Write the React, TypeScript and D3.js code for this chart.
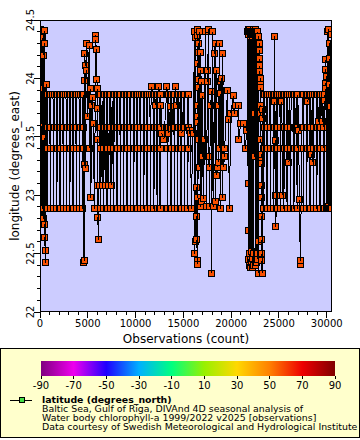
import React from "react";
import * as d3 from "d3";

const W = 360;
const H = 440;
const plot = { left: 40, right: 332, top: 20, bottom: 312 };

const xDomain = [0, 30550];
const yDomain = [22, 24.5];
const xTicks = [0, 5000, 10000, 15000, 20000, 25000, 30000];
const yTicks = [22, 22.5, 23, 23.5, 24, 24.5];
const yTickLabels = ["22", "22.5", "23", "23.5", "24", "24.5"];

const colorbarTicks = [-90, -70, -50, -30, -10, 10, 30, 50, 70, 90];
const paletteColors = [
  "#800080", "#ee00ee", "#2000ff", "#00b0ff", "#00ff80",
  "#98f000", "#ffd800", "#ff8000", "#ee0000", "#800000",
];

// Gulf of Riga monitoring stations (longitude, degrees east)
const stationLon = [23.86, 23.58, 23.4, 22.885];
// order of station visits within a monitoring cruise
const visitStation = [0, 1, 2, 3, 3, 2, 1, 0];
const visitOffset = [0, 15, 30, 45, 75, 90, 105, 120];
// observation count at which each regular cruise starts
const cruiseStart = [
  680, 1020, 1360, 1700, 2040, 2380, 2720, 3060, 3400, 3740, 4080, 4420,
  6250, 6600, 6950, 7300, 7650, 8000, 8350, 8700, 9050, 9400, 9750, 10100,
  10450, 10800, 11150, 11500, 11850, 12200, 12500,
  13300, 13650, 14000, 14350, 14700, 15050, 15400,
  23350, 23700, 24050, 24400, 24750, 25100, 25450, 25800, 26150, 26500, 26850,
  27500, 27850, 28200, 28550, 28900, 29250, 29600,
];
// irregular observations [observation count, longitude]
const extraObs: [number, number][] = [
  [0, 23.6], [30, 24.38], [60, 22.88], [90, 24.42], [120, 22.8], [150, 23.61],
  [180, 24.3], [210, 23.91], [240, 22.78], [273, 22.885], [300, 24.35], [340, 22.8],
  [380, 24.2], [420, 24.41], [440, 24.3], [470, 23.49], [490, 22.75], [510, 22.64],
  [530, 22.53], [600, 22.42], [630, 23.95],
  [4600, 22.42], [4620, 22.44], [4640, 23.26], [4660, 23.98], [4680, 24.21],
  [4720, 23.23], [4800, 24.11], [4860, 24.3], [4900, 24.07], [5000, 23.67],
  [5140, 24.28], [5200, 23.4], [5290, 23.91], [5330, 22.98], [5380, 23.77],
  [5450, 23.84], [5560, 23.61], [5700, 22.885], [5830, 24.37], [5850, 24.33],
  [5870, 24.25], [5960, 23.99], [5980, 23.91], [6000, 23.74], [6020, 23.48],
  [6040, 23.08], [6060, 22.81], [6085, 22.62],
  [6180, 23.085], [6500, 23.085], [6820, 23.085], [7180, 23.085], [7500, 23.085],
  [11640, 23.93], [12060, 23.77], [12410, 23.93], [12650, 23.77], [12720, 23.53],
  [12970, 23.48], [13280, 23.93], [13450, 23.53], [13640, 23.76], [13800, 23.57],
  [14150, 23.93], [14330, 23.77], [14850, 23.53],
  [15600, 23.55], [15700, 23.53], [15870, 22.885], [15950, 23.55], [16050, 23.53],
  [16155, 24.4], [16200, 22.5], [16250, 24.35], [16300, 22.6], [16395, 23.07],
  [16400, 22.82], [16420, 22.62], [16440, 22.44], [16450, 22.41], [16470, 24.42],
  [16480, 24.37], [16490, 24.13], [16500, 23.77], [16510, 23.67], [16520, 23.62],
  [16530, 22.98], [16540, 23.48], [16560, 24.22], [16575, 24.3], [16600, 23.99],
  [16620, 23.92], [16640, 23.24], [16700, 24.4], [16760, 22.9], [16815, 24.22],
  [16830, 24.07], [16850, 23.97], [16900, 22.95], [16995, 23.33], [17025, 23.85],
  [17100, 22.97], [17205, 23.48], [17300, 24.4], [17400, 22.9], [17520, 23.97],
  [17550, 24.07], [17625, 24.42], [17700, 22.9], [17730, 23.33], [17750, 23.24],
  [17865, 23.77], [17940, 23.89], [17970, 22.33], [18050, 24.4], [18150, 22.9],
  [18285, 24.21], [18315, 24.3], [18400, 22.95], [18460, 24.07], [18495, 23.17],
  [18570, 23.24], [18670, 23.28], [18705, 23.77], [18775, 24.3], [18790, 23.4],
  [18880, 23.97], [18900, 23.87], [18915, 22.885], [19000, 24.0], [19090, 22.98],
  [19125, 24.21], [19200, 23.24], [19300, 23.33], [19320, 23.4], [19615, 23.9],
  [19700, 23.65], [19825, 22.885], [19950, 23.7], [20245, 23.85], [20300, 23.7],
  [20500, 23.77], [20770, 23.77], [20800, 23.48], [21000, 23.61], [21295, 23.61],
  [21460, 23.4], [21650, 23.55],
  [21740, 24.4], [21765, 23.1], [21790, 24.42], [21815, 22.7], [21840, 24.38],
  [21865, 22.45], [21890, 24.4], [21915, 22.4], [21940, 24.42], [21965, 22.5],
  [21990, 24.36], [22015, 22.38], [22040, 24.4], [22065, 22.45], [22090, 24.38],
  [22115, 22.42], [22140, 24.4], [22165, 22.52], [22190, 24.36], [22215, 22.38],
  [22240, 24.4], [22265, 22.46], [22290, 24.42], [22315, 22.4], [22340, 24.38],
  [22365, 22.5], [22390, 24.4], [22415, 23.7], [22440, 24.38], [22465, 23.33],
  [22490, 24.4], [22515, 22.45], [22540, 24.38], [22565, 22.4], [22590, 24.42],
  [22615, 22.48], [22640, 24.38], [22665, 22.42], [22690, 24.4], [22715, 22.5],
  [22740, 24.36], [22765, 22.45], [22790, 24.4], [22815, 22.6], [22840, 24.36],
  [22865, 22.33],
  [22900, 24.36], [22920, 24.3], [22940, 24.24], [22960, 24.17], [22980, 24.11],
  [23000, 24.06], [23020, 24.0], [23040, 23.95], [23060, 23.92], [23080, 23.77],
  [23100, 23.7], [23120, 23.48], [23140, 23.35], [23150, 23.3], [23160, 23.27],
  [23170, 23.08], [23180, 22.98], [23190, 22.82], [23200, 22.62], [23210, 22.5],
  [23220, 22.44], [23230, 22.33], [23290, 23.73], [23320, 23.66],
  [24550, 24.36], [24580, 23.8], [24610, 23.47], [24640, 23.0], [24680, 22.73],
  [24720, 23.0], [25300, 23.8], [25390, 23.0], [26050, 23.28], [26680, 23.57],
  [27050, 23.55], [27150, 22.96], [27230, 22.41], [27280, 22.44], [27350, 23.4],
  [28000, 23.8], [28450, 23.35], [28480, 23.28], [29120, 23.63], [29540, 23.63],
  [29760, 23.81], [29800, 22.885], [29830, 24.16], [29860, 24.08], [29890, 23.96],
  [29920, 23.91], [29950, 22.885], [30000, 24.02], [30050, 22.885], [30100, 24.4],
  [30140, 22.885], [30170, 24.42], [30210, 22.9], [30240, 24.3], [30270, 24.17],
  [30300, 22.885], [30330, 23.95], [30360, 23.76], [30400, 22.885], [30450, 24.38],
  [30500, 22.885],
];
const pointLatitude = 57.5;

const legendTitle = "latitude (degrees_north)";
const legendLines = [
  "Baltic Sea, Gulf of Riga, DIVAnd 4D seasonal analysis of",
  "Water body chlorophyll-a 1999/2022 v2025 [observations]",
  "Data courtesy of Swedish Meteorological and Hydrological Institute",
];

const FONT = "DejaVu Sans, Verdana, sans-serif";

export default function App() {
  const x = d3.scaleLinear().domain(xDomain).range([plot.left, plot.right]);
  const y = d3.scaleLinear().domain(yDomain).range([plot.bottom, plot.top]);
  const color = d3
    .scaleLinear<string>()
    .domain(colorbarTicks)
    .range(paletteColors)
    .interpolate(d3.interpolateRgb);
  const cb = d3.scaleLinear().domain([-90, 90]).range([41, 335]);

  const pts: [number, number][] = [];
  cruiseStart.forEach((c) => {
    visitStation.forEach((s, k) => pts.push([c + visitOffset[k], stationLon[s]]));
  });
  extraObs.forEach((p) => pts.push(p));
  pts.sort((a, b) => a[0] - b[0]);

  const fill = color(pointLatitude);
  const marks: React.ReactNode[] = [];
  pts.forEach((p, i) => {
    const px = x(p[0]);
    const py = y(p[1]);
    if (i > 0) {
      const q = pts[i - 1];
      marks.push(
        <line key={"l" + i} x1={x(q[0])} y1={y(q[1])} x2={px} y2={py} stroke="#000" strokeWidth={1} />
      );
    }
    marks.push(
      <rect key={"r" + i} x={px - 3} y={py - 3} width={6} height={6} fill={fill} stroke="#000" strokeWidth={1} />
    );
  });

  const xMinor = d3.range(0, 30001, 1000).filter((v) => v % 5000 !== 0);
  const yMinor = d3
    .range(22, 24.5, 0.1)
    .map((v) => +v.toFixed(1))
    .filter((v) => Math.abs(v * 2 - Math.round(v * 2)) > 1e-6);

  const gradStops = colorbarTicks.map((v, i) => (
    <stop key={i} offset={`${((v + 90) / 180) * 100}%`} stopColor={paletteColors[i]} />
  ));

  return (
    <svg width={W} height={H} style={{ position: "absolute", left: 0, top: 0, display: "block", background: "#fff" }} fontFamily={FONT}>
      <defs>
        <clipPath id="plotClip">
          <rect x={plot.left} y={plot.top} width={plot.right - plot.left} height={plot.bottom - plot.top} />
        </clipPath>
        <clipPath id="legendClip">
          <rect x={1} y={348} width={358} height={90} />
        </clipPath>
        <linearGradient id="cbGrad" x1="0" x2="1" y1="0" y2="0">
          {gradStops}
        </linearGradient>
      </defs>
      <rect x={0} y={0} width={W} height={H} fill="#fff" />
      <rect x={plot.left} y={plot.top} width={plot.right - plot.left} height={plot.bottom - plot.top} fill="#ccccff" />
      <g clipPath="url(#plotClip)" shapeRendering="crispEdges">{marks}</g>
      <rect x={plot.left + 0.5} y={plot.top + 0.5} width={plot.right - plot.left - 1} height={plot.bottom - plot.top - 1} fill="none" stroke="#000" strokeWidth={1} shapeRendering="crispEdges" />

      <g shapeRendering="crispEdges" stroke="#000">
        {xTicks.map((t) => (
          <line key={"xt" + t} x1={x(t)} x2={x(t)} y1={plot.bottom} y2={plot.bottom + 6} />
        ))}
        {xMinor.map((t) => (
          <line key={"xm" + t} x1={x(t)} x2={x(t)} y1={plot.bottom} y2={plot.bottom + 3} />
        ))}
        {yTicks.map((t) => (
          <line key={"yt" + t} x1={plot.left - 6} x2={plot.left} y1={y(t)} y2={y(t)} />
        ))}
        {yMinor.map((t) => (
          <line key={"ym" + t} x1={plot.left - 3} x2={plot.left} y1={y(t)} y2={y(t)} />
        ))}
      </g>
      {xTicks.map((t) => (
        <text key={"xl" + t} x={x(t)} y={327} fontSize={10} textAnchor="middle" fill="#000">
          {t}
        </text>
      ))}
      {yTicks.map((t, i) => (
        <text key={"yl" + t} transform={`translate(33.5,${y(t)}) rotate(-90)`} fontSize={10} textAnchor="middle" fill="#000">
          {yTickLabels[i]}
        </text>
      ))}
      <text x={(plot.left + plot.right) / 2} y={343} fontSize={12} textAnchor="middle" fill="#000">
        Observations (count)
      </text>
      <text transform={`translate(19,${(plot.top + plot.bottom) / 2}) rotate(-90)`} fontSize={12} textAnchor="middle" fill="#000">
        longitude (degrees_east)
      </text>

      <rect x={0.5} y={348.5} width={358.5} height={89} fill="#ffffcc" stroke="#000" strokeWidth={1} shapeRendering="crispEdges" />
      <rect x={41} y={361} width={294} height={15} fill="url(#cbGrad)" />
      <g shapeRendering="crispEdges" stroke="#000">
        {colorbarTicks.map((t) => (
          <line key={"ct" + t} x1={cb(t)} x2={cb(t)} y1={376} y2={379} />
        ))}
      </g>
      {colorbarTicks.map((t) => (
        <text key={"cl" + t} x={cb(t)} y={389} fontSize={10} textAnchor="middle" fill="#000">
          {t}
        </text>
      ))}
      <g clipPath="url(#legendClip)">
        <line x1={10} x2={32} y1={400} y2={400} stroke="#000" strokeWidth={1} shapeRendering="crispEdges" />
        <rect x={19} y={397} width={5} height={5} fill="#44dd44" stroke="#000" strokeWidth={1} shapeRendering="crispEdges" />
        <text x={42} y={403} fontSize={9.4} fontWeight="bold" fill="#000">
          {legendTitle}
        </text>
        {legendLines.map((s, i) => (
          <text key={"lg" + i} x={42} y={412 + i * 8.9} fontSize={9.4} fill="#000">
            {s}
          </text>
        ))}
      </g>
    </svg>
  );
}
